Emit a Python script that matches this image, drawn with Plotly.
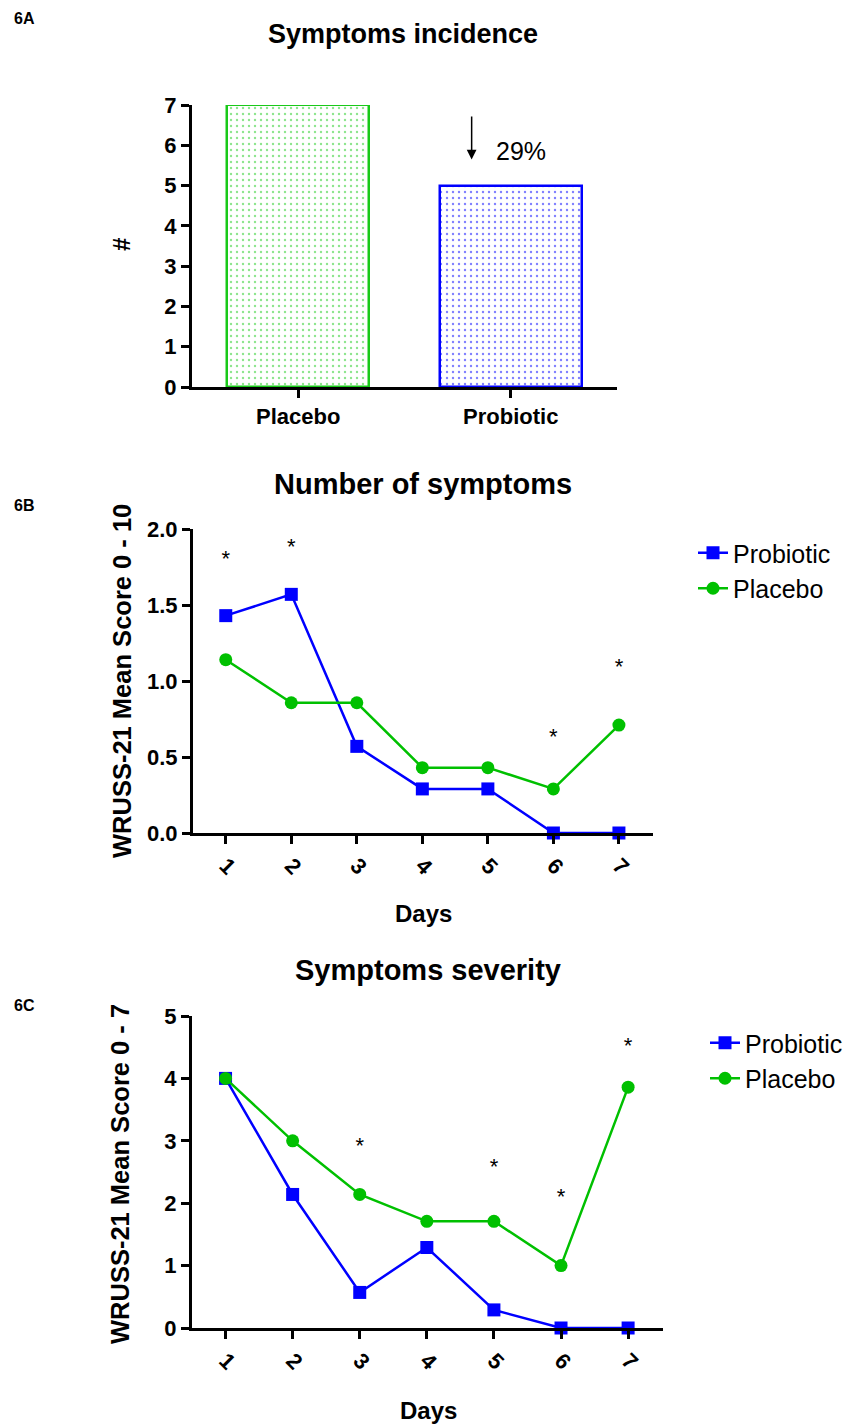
import plotly.graph_objects as go

# ---------------- data ----------------
groups_a = ["Placebo", "Probiotic"]
incidence = [7, 5]
reduction_label = "29%"

days = [1, 2, 3, 4, 5, 6, 7]
num_probiotic = [1.43, 1.57, 0.57, 0.29, 0.29, 0.0, 0.0]
num_placebo = [1.14, 0.857, 0.857, 0.43, 0.43, 0.29, 0.71]
num_star_days = [1, 2, 6, 7]
num_star_y = [1.79, 1.87, 0.62, 1.08]

sev_probiotic = [4.0, 2.14, 0.57, 1.29, 0.29, 0.0, 0.0]
sev_placebo = [4.0, 3.0, 2.14, 1.71, 1.71, 1.0, 3.86]
sev_star_days = [3, 5, 6, 7]
sev_star_y = [2.9, 2.55, 2.07, 4.49]

W, H = 854, 1425
FONT = "Liberation Sans, Arial, sans-serif"
BLUE = "#0000FF"
GREEN = "#00C000"
BAR_GREEN = "#19C919"


def px(x):
    return x / W


def py(y):
    return 1 - y / H


fig = go.Figure()

# ---------------- Panel A ----------------
fig.add_trace(go.Bar(
    x=[0, 1], y=incidence, width=0.67,
    marker=dict(
        color="white",
        line=dict(color=[BAR_GREEN, BLUE], width=2.5),
        pattern=dict(shape=".", fgcolor=[BAR_GREEN, BLUE], bgcolor="white",
                     size=6, solidity=0.12, fillmode="overlay"),
    ),
    showlegend=False, xaxis="x", yaxis="y",
))

# ---------------- Panel B ----------------
fig.add_trace(go.Scatter(
    x=days, y=num_probiotic, name="Probiotic", mode="lines+markers",
    line=dict(color=BLUE, width=2.5), marker=dict(symbol="square", size=13, color=BLUE),
    xaxis="x2", yaxis="y2", legend="legend", cliponaxis=False,
))
fig.add_trace(go.Scatter(
    x=days, y=num_placebo, name="Placebo", mode="lines+markers",
    line=dict(color=GREEN, width=2.5), marker=dict(symbol="circle", size=13, color=GREEN),
    xaxis="x2", yaxis="y2", legend="legend", cliponaxis=False,
))
fig.add_trace(go.Scatter(
    x=num_star_days, y=num_star_y, mode="text", text=["*"] * len(num_star_days),
    textfont=dict(family=FONT, size=22, color="black"),
    showlegend=False, xaxis="x2", yaxis="y2", cliponaxis=False,
))

# ---------------- Panel C ----------------
fig.add_trace(go.Scatter(
    x=days, y=sev_probiotic, name="Probiotic", mode="lines+markers",
    line=dict(color=BLUE, width=2.5), marker=dict(symbol="square", size=13, color=BLUE),
    xaxis="x3", yaxis="y3", legend="legend2", cliponaxis=False,
))
fig.add_trace(go.Scatter(
    x=days, y=sev_placebo, name="Placebo", mode="lines+markers",
    line=dict(color=GREEN, width=2.5), marker=dict(symbol="circle", size=13, color=GREEN),
    xaxis="x3", yaxis="y3", legend="legend2", cliponaxis=False,
))
fig.add_trace(go.Scatter(
    x=sev_star_days, y=sev_star_y, mode="text", text=["*"] * len(sev_star_days),
    textfont=dict(family=FONT, size=22, color="black"),
    showlegend=False, xaxis="x3", yaxis="y3", cliponaxis=False,
))

axis_common = dict(showgrid=False, zeroline=False, showline=True, linecolor="black",
                   linewidth=3, ticks="outside", tickcolor="black", tickwidth=2.5,
                   ticklen=8, fixedrange=True, automargin=False,
                   tickfont=dict(family=FONT, size=22, color="black", weight="bold"))

fig.update_layout(
    template="none",
    width=W, height=H, autosize=False,
    margin=dict(l=0, r=0, t=0, b=0, pad=0, autoexpand=False),
    paper_bgcolor="white", plot_bgcolor="white",
    font=dict(family=FONT, color="black"),
    bargap=0,
    xaxis=dict(axis_common, domain=[px(192), px(617)], range=[-0.5, 1.5],
               tickvals=[0, 1], ticktext=groups_a, anchor="y"),
    yaxis=dict(axis_common, domain=[py(387), py(105)], range=[0, 7], dtick=1, anchor="x"),
    xaxis2=dict(axis_common, domain=[px(193), px(653)], range=[0.5, 7.52],
                tickvals=days, tickangle=45, anchor="y2"),
    yaxis2=dict(axis_common, domain=[py(833), py(529)], range=[0, 2], dtick=0.5,
                tickformat=".1f", anchor="x2"),
    xaxis3=dict(axis_common, domain=[px(192), px(663)], range=[0.5, 7.52],
                tickvals=days, tickangle=45, anchor="y3"),
    yaxis3=dict(axis_common, domain=[py(1328), py(1016)], range=[0, 5], dtick=1, anchor="x3"),
    legend=dict(x=px(693), y=py(530), xanchor="left", yanchor="top",
                font=dict(family=FONT, size=25, color="black"),
                bgcolor="rgba(0,0,0,0)", tracegroupgap=0),
    legend2=dict(x=px(705), y=py(1020), xanchor="left", yanchor="top",
                 font=dict(family=FONT, size=25, color="black"),
                 bgcolor="rgba(0,0,0,0)", tracegroupgap=0),
)

annos = []


def text(x, y, s, size, bold=True, angle=0, xanchor="center"):
    annos.append(dict(x=px(x), y=py(y), xref="paper", yref="paper", text=s,
                      showarrow=False, textangle=angle, xanchor=xanchor, yanchor="middle",
                      font=dict(family=FONT, size=size, color="black",
                                weight="bold" if bold else "normal")))


text(12, 18, "6A", 16, xanchor="left")
text(12, 505, "6B", 16, xanchor="left")
text(12, 1005, "6C", 16, xanchor="left")
text(403, 34, "Symptoms incidence", 27)
text(423, 484, "Number of symptoms", 29)
text(428, 970, "Symptoms severity", 29)
text(122, 245, "#", 24, angle=-90)
text(122, 681, "WRUSS-21 Mean Score 0 - 10", 25.5, angle=-90)
text(120, 1174, "WRUSS-21 Mean Score 0 - 7", 25.5, angle=-90)
text(423, 913, "Days", 24)
text(428, 1410, "Days", 24)

# arrow + percentage in panel A
annos.append(dict(x=0.816, y=5.65, xref="x", yref="y", ax=0.816, ay=6.75,
                  axref="x", ayref="y", showarrow=True, arrowhead=2, arrowsize=1.3,
                  arrowwidth=1.5, arrowcolor="black", text=""))
annos.append(dict(x=1.05, y=5.85, xref="x", yref="y", text=reduction_label,
                  showarrow=False, font=dict(family=FONT, size=25, color="black")))

fig.update_layout(annotations=annos)

fig.write_html("out.html")
